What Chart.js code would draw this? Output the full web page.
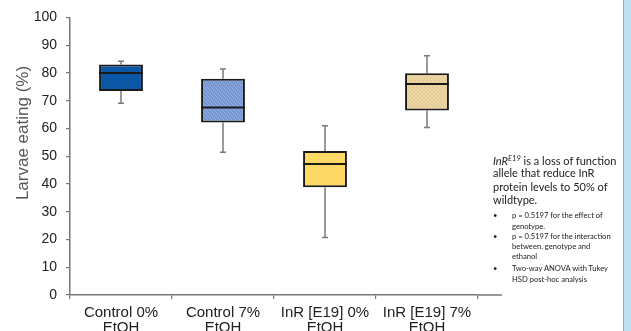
<!DOCTYPE html>
<html>
<head>
<meta charset="utf-8">
<script src="https://cdn.jsdelivr.net/npm/chart.js@4"></script>
<style>
  body { margin: 0; background: #fff; }
  #wrap { position: relative; width: 631px; height: 331px; overflow: hidden; background: #fff; }
  #chart { position: absolute; left: 0; top: 0; }
  #ytitle {
    position: absolute; left: 23px; top: 133px; width: 200px; margin-left: -100px; margin-top: -10px;
    height: 20px; line-height: 20px; text-align: center; transform: rotate(-90deg);
    font-family: "Liberation Sans", Arial, sans-serif; font-size: 17px; color: #595959; white-space: nowrap;
  }
  .note { position: absolute; font-family: Lato, "Open Sans", sans-serif; color: #222; white-space: nowrap; }
  .main { left: 493px; font-size: 11px; line-height: 14px; margin-top: -7px; }
  .main sup { font-size: 7.5px; line-height: 0; vertical-align: 4px; }
  .small { font-size: 7.6px; line-height: 10px; margin-top: -5px; }
  .dot { left: 493px; }
  .txt { left: 512px; }
  #edge { position: absolute; left: 623px; top: 0; width: 8px; height: 331px; background: #bfe0ee; border-left: 1.5px solid #86aad2; box-sizing: border-box; }
</style>
</head>
<body>
<div id="wrap">
  <canvas id="chart" width="631" height="331"></canvas>
  <div id="ytitle">Larvae eating (%)</div>
  <div class="note main" style="top:161px"><i>InR<sup>E19</sup></i> is a loss of function</div>
  <div class="note main" style="top:173px">allele that reduce InR</div>
  <div class="note main" style="top:187px">protein levels to 50% of</div>
  <div class="note main" style="top:200px">wildtype.</div>
  <div class="note small dot" style="top:215px">•</div>
  <div class="note small txt" style="top:215px">p = 0.5197 for the effect of</div>
  <div class="note small txt" style="top:226px">genotype.</div>
  <div class="note small dot" style="top:236px">•</div>
  <div class="note small txt" style="top:236px">p = 0.5197 for the interaction</div>
  <div class="note small txt" style="top:246px">between. genotype and</div>
  <div class="note small txt" style="top:256px">ethanol</div>
  <div class="note small dot" style="top:268px">•</div>
  <div class="note small txt" style="top:268px">Two-way ANOVA with Tukey</div>
  <div class="note small txt" style="top:279px">HSD post-hoc analysis</div>
  <div id="edge"></div>
</div>
<script>
// box plot values (% larvae eating)
const categories = [['Control 0%', 'EtOH'], ['Control 7%', 'EtOH'], ['InR [E19] 0%', 'EtOH'], ['InR [E19] 7%', 'EtOH']];
const mins = [69.1, 51.4, 20.7, 60.3];
const q1 = [73.5, 62.1, 38.8, 66.5];
const medians = [80.0, 67.5, 47.2, 76.0];
const q3 = [83.0, 77.9, 51.9, 79.9];
const maxs = [84.2, 81.4, 61.0, 86.2];
const yTicks = [0, 10, 20, 30, 40, 50, 60, 70, 80, 90, 100];

// small repeating texture like the mottled fills in the original
function texture(base, spot) {
  const c = document.createElement('canvas');
  c.width = 4; c.height = 4;
  const g = c.getContext('2d');
  g.fillStyle = base;
  g.fillRect(0, 0, 4, 4);
  g.fillStyle = spot;
  g.fillRect(0, 0, 1, 1);
  g.fillRect(2, 1, 1, 1);
  g.fillRect(1, 2, 1, 1);
  g.fillRect(3, 3, 1, 1);
  return g.createPattern(c, 'repeat');
}

const boxColors = ['#0b57a6', texture('#7696d2', '#96b2e2'), '#ffd966', texture('#e6cd96', '#f1ddb2')];

// whiskers go under the boxes, medians on top
const boxPlot = {
  id: 'boxPlot',
  beforeDatasetsDraw(chart) {
    const ctx = chart.ctx;
    const y = chart.scales.y;
    const meta = chart.getDatasetMeta(0);
    ctx.save();
    ctx.strokeStyle = '#7a7a7a';
    ctx.lineWidth = 1.5;
    meta.data.forEach((bar, i) => {
      const x = bar.x;
      ctx.beginPath();
      ctx.moveTo(x, y.getPixelForValue(maxs[i]));
      ctx.lineTo(x, y.getPixelForValue(q3[i]));
      ctx.moveTo(x, y.getPixelForValue(q1[i]));
      ctx.lineTo(x, y.getPixelForValue(mins[i]));
      ctx.moveTo(x - 3, y.getPixelForValue(maxs[i]));
      ctx.lineTo(x + 3, y.getPixelForValue(maxs[i]));
      ctx.moveTo(x - 3, y.getPixelForValue(mins[i]));
      ctx.lineTo(x + 3, y.getPixelForValue(mins[i]));
      ctx.stroke();
    });
    ctx.restore();
  },
  afterDatasetsDraw(chart) {
    const ctx = chart.ctx;
    const y = chart.scales.y;
    const meta = chart.getDatasetMeta(0);
    ctx.save();
    ctx.strokeStyle = '#1a1a1a';
    ctx.lineWidth = 2;
    meta.data.forEach((bar, i) => {
      const yy = y.getPixelForValue(medians[i]);
      ctx.beginPath();
      ctx.moveTo(bar.x - bar.width / 2, yy);
      ctx.lineTo(bar.x + bar.width / 2, yy);
      ctx.stroke();
    });
    // x axis line runs a little past the last category
    const a = chart.chartArea;
    ctx.strokeStyle = '#777';
    ctx.lineWidth = 1.5;
    ctx.beginPath();
    ctx.moveTo(a.right, a.bottom);
    ctx.lineTo(a.right + 24, a.bottom);
    ctx.stroke();
    ctx.restore();
  }
};

const ctx = document.getElementById('chart').getContext('2d');
new Chart(ctx, {
  type: 'bar',
  data: {
    labels: categories,
    datasets: [{
      data: q1.map((v, i) => [v, q3[i]]),
      backgroundColor: boxColors,
      borderColor: '#1a1a1a',
      borderWidth: 2,
      borderSkipped: false,
      barPercentage: 0.43,
      categoryPercentage: 1
    }]
  },
  options: {
    responsive: false,
    animation: false,
    devicePixelRatio: 1,
    layout: { padding: { top: 17, right: 153, left: 0, bottom: 0 } },
    plugins: { legend: { display: false }, tooltip: { enabled: false } },
    scales: {
      x: {
        grid: { offset: true, drawOnChartArea: false, tickLength: 4, color: '#777', lineWidth: 1.2 },
        border: { color: '#777', width: 1.5 },
        ticks: {
          color: '#222', padding: 7, maxRotation: 0, autoSkip: false,
          font: { family: '"Liberation Sans", Arial, sans-serif', size: 15, lineHeight: 0.95 }
        },
        afterFit(scale) { scale.height = 36; }
      },
      y: {
        min: 0, max: 100,
        afterBuildTicks(scale) { scale.ticks = yTicks.map(v => ({ value: v })); },
        grid: { drawOnChartArea: false, tickLength: 4, color: '#777', lineWidth: 1.2 },
        border: { color: '#777', width: 1.5 },
        ticks: {
          color: '#222', padding: 9,
          font: { family: '"Liberation Sans", Arial, sans-serif', size: 14 }
        },
        afterFit(scale) { scale.width = 70; }
      }
    }
  },
  plugins: [boxPlot]
});
</script>
</body>
</html>
